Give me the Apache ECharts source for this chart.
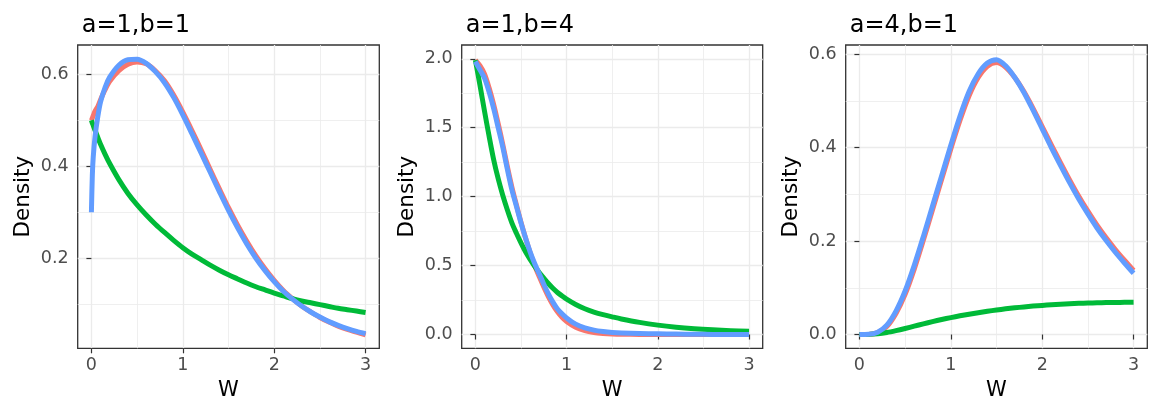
<!DOCTYPE html>
<html><head><meta charset="utf-8">
<script src="https://cdn.jsdelivr.net/npm/echarts@6/dist/echarts.min.js"></script>
<style>html,body{margin:0;padding:0;background:#fff}#c{width:1149px;height:403px}</style>
</head><body><div id="c"></div>
<script>
// ---------------- DATA ----------------
const panelTitles = ['a=1,b=1', 'a=1,b=4', 'a=4,b=1'];
const seriesNames = ['red', 'green', 'blue'];
const seriesColors = ['#F8766D', '#00BA38', '#619CFF'];
const xAxisTitle = 'W';
const yAxisTitle = 'Density';

const xTicks = [0, 1, 2, 3];
const xMinorTicks = [0.5, 1.5, 2.5];
const p1YTicks = [0.2, 0.4, 0.6];
const p1YMinor = [0.1, 0.3, 0.5];
const p2YTicks = [0, 0.5, 1, 1.5, 2];
const p2YMinor = [0.25, 0.75, 1.25, 1.75];
const p3YTicks = [0, 0.2, 0.4, 0.6];
const p3YMinor = [0.1, 0.3, 0.5];

// panel 1 : a=1,b=1
const p1W = [0,0.01,0.02,0.04,0.07,0.1,0.15,0.2,0.3,0.4,0.5,0.6,0.7,0.8,0.9,1.0,1.1,1.2,1.3,1.4,1.5,1.6,1.7,1.8,1.9,2.0,2.1,2.2,2.3,2.4,2.5,2.6,2.7,2.8,2.9,3.0];
const p1Red = [0.50,0.505,0.51,0.52,0.530,0.545,0.567,0.585,0.608,0.622,0.627,0.623,0.608,0.586,0.555,0.518,0.478,0.436,0.393,0.351,0.310,0.272,0.237,0.205,0.177,0.152,0.130,0.112,0.096,0.083,0.071,0.061,0.052,0.045,0.039,0.033];
const p1Green = [0.50,0.494,0.489,0.478,0.463,0.448,0.426,0.406,0.371,0.341,0.316,0.294,0.274,0.256,0.239,0.223,0.209,0.197,0.185,0.174,0.164,0.155,0.146,0.138,0.131,0.124,0.118,0.112,0.107,0.103,0.099,0.095,0.091,0.088,0.085,0.082];
const p1Blue = [0.30,0.38,0.42,0.465,0.508,0.540,0.572,0.594,0.620,0.632,0.633,0.624,0.606,0.582,0.550,0.512,0.471,0.429,0.387,0.345,0.304,0.266,0.231,0.200,0.173,0.149,0.128,0.111,0.096,0.083,0.072,0.062,0.054,0.047,0.041,0.036];

// panel 2 : a=1,b=4
const p2W = [0,0.05,0.1,0.15,0.2,0.25,0.3,0.35,0.4,0.45,0.5,0.55,0.6,0.65,0.7,0.75,0.8,0.85,0.9,0.95,1.0,1.1,1.2,1.3,1.4,1.5,1.6,1.8,2.0,2.2,2.4,2.6,2.8,3.0];
const p2Red = [1.99,1.95,1.89,1.79,1.67,1.53,1.38,1.22,1.07,0.94,0.815,0.70,0.595,0.50,0.42,0.345,0.275,0.215,0.165,0.125,0.095,0.052,0.028,0.015,0.008,0.004,0.002,0.001,0,0,0,0,0,0];
const p2Green = [1.99,1.81,1.62,1.44,1.27,1.13,1.01,0.905,0.81,0.735,0.665,0.60,0.545,0.495,0.45,0.41,0.37,0.335,0.305,0.28,0.257,0.218,0.187,0.163,0.144,0.128,0.113,0.088,0.068,0.053,0.042,0.034,0.028,0.024];
const p2Blue = [1.98,1.92,1.86,1.76,1.64,1.50,1.36,1.20,1.05,0.93,0.81,0.70,0.60,0.515,0.44,0.365,0.295,0.235,0.185,0.15,0.12,0.075,0.048,0.032,0.022,0.015,0.011,0.007,0.005,0.003,0.002,0.001,0.001,0.0005];

// panel 3 : a=4,b=1
const p3W = [0,0.1,0.2,0.3,0.4,0.5,0.6,0.7,0.8,0.9,1.0,1.1,1.2,1.3,1.4,1.5,1.6,1.7,1.8,1.9,2.0,2.1,2.2,2.3,2.4,2.5,2.6,2.7,2.8,2.9,3.0];
const p3Red = [0,0.0003,0.004,0.017,0.045,0.086,0.140,0.202,0.267,0.332,0.397,0.458,0.511,0.550,0.574,0.582,0.572,0.550,0.520,0.484,0.445,0.406,0.368,0.331,0.296,0.264,0.234,0.207,0.182,0.159,0.137];
const p3Green = [0,0.0003,0.0015,0.0042,0.0082,0.0128,0.0178,0.0228,0.0276,0.0321,0.0362,0.0400,0.0434,0.0466,0.0497,0.0525,0.0549,0.0571,0.0590,0.0608,0.0623,0.0637,0.0649,0.0659,0.0667,0.0674,0.0679,0.0683,0.0686,0.0688,0.0690];
const p3Blue = [0,0.0005,0.005,0.020,0.050,0.093,0.148,0.210,0.275,0.340,0.405,0.467,0.520,0.558,0.581,0.588,0.575,0.550,0.518,0.480,0.440,0.400,0.362,0.325,0.290,0.258,0.228,0.201,0.176,0.153,0.131];

// ---------------- LAYOUT ----------------
const FONT = '"DejaVu Sans", "Liberation Sans", Arial, sans-serif';
const panels = [
  {left: 77.7, width: 301.6, yMin: 0.004, yMax: 0.664, yTicks: p1YTicks, yMinor: p1YMinor, W: p1W, vals: [p1Red, p1Green, p1Blue]},
  {left: 461.7, width: 301, yMin: -0.1, yMax: 2.1, yTicks: p2YTicks, yMinor: p2YMinor, W: p2W, vals: [p2Red, p2Green, p2Blue]},
  {left: 845.7, width: 301.6, yMin: -0.0295, yMax: 0.6195, yTicks: p3YTicks, yMinor: p3YMinor, W: p3W, vals: [p3Red, p3Green, p3Blue]}
];
const TOP = 45, HEIGHT = 303.3;
const GRIDCOL = '#EBEBEB';

const option = {
  animation: false,
  backgroundColor: '#ffffff',
  title: [], grid: [], xAxis: [], yAxis: [], series: []
};

panels.forEach((p, i) => {
  option.title.push({
    text: panelTitles[i], left: p.left - 1, top: 9,
    textStyle: {fontFamily: FONT, fontSize: 24, fontWeight: 'normal', color: '#000'}
  });
  option.grid.push({
    left: p.left, top: TOP, width: p.width, height: HEIGHT,
    containLabel: false, outerBoundsMode: 'none',
    show: true, borderColor: '#333333', borderWidth: 1.3, backgroundColor: '#fff'
  });
});
// major axes
panels.forEach((p, i) => {
  option.xAxis.push({
    gridIndex: i, type: 'value', min: -0.15, max: 3.15, position: 'bottom',
    axisLine: {show: false},
    axisTick: {show: true, customValues: xTicks, length: 5, lineStyle: {color: '#333333', width: 1.2}},
    axisLabel: {customValues: xTicks, color: '#4D4D4D', fontSize: 17.5, fontFamily: FONT, margin: 8, formatter: v => String(v)},
    splitLine: {show: true, lineStyle: {color: GRIDCOL, width: 1.3}},
    name: xAxisTitle, nameLocation: 'middle', nameGap: 32,
    nameTextStyle: {color: '#000', fontSize: 21, fontFamily: FONT}
  });
  option.yAxis.push({
    gridIndex: i, type: 'value', min: p.yMin, max: p.yMax, position: 'left',
    axisLine: {show: false},
    axisTick: {show: true, customValues: p.yTicks, length: 5, lineStyle: {color: '#333333', width: 1.2}},
    axisLabel: {customValues: p.yTicks, color: '#4D4D4D', fontSize: 17.5, fontFamily: FONT, margin: 9, formatter: v => v.toFixed(1)},
    splitLine: {show: true, lineStyle: {color: GRIDCOL, width: 1.3}},
    name: yAxisTitle, nameLocation: 'middle', nameGap: 43.5, nameRotate: 90,
    nameTextStyle: {color: '#000', fontSize: 21.5, fontFamily: FONT}
  });
});
// minor axes (only grid lines)
panels.forEach((p, i) => {
  option.xAxis.push({
    gridIndex: i, type: 'value', min: -0.15, max: 3.15, position: 'bottom',
    axisLine: {show: false},
    axisTick: {show: false, customValues: xMinorTicks},
    axisLabel: {show: false, customValues: xMinorTicks},
    splitLine: {show: true, lineStyle: {color: GRIDCOL, width: 0.8}}
  });
  option.yAxis.push({
    gridIndex: i, type: 'value', min: p.yMin, max: p.yMax, position: 'left',
    axisLine: {show: false},
    axisTick: {show: false, customValues: p.yMinor},
    axisLabel: {show: false, customValues: p.yMinor},
    splitLine: {show: true, lineStyle: {color: GRIDCOL, width: 0.8}}
  });
});
// series
panels.forEach((p, i) => {
  p.vals.forEach((vals, k) => {
    option.series.push({
      name: seriesNames[k], type: 'line', xAxisIndex: i, yAxisIndex: i,
      data: p.W.map((w, j) => [w, vals[j]]),
      showSymbol: false, symbol: 'none', smooth: 0.3,
      lineStyle: {color: seriesColors[k], width: 5, cap: 'butt', join: 'round'},
      itemStyle: {color: seriesColors[k]},
      emphasis: {disabled: true}, silent: true, z: 3 + k
    });
  });
});

const chart = echarts.init(document.getElementById('c'), null, {renderer: 'canvas'});
chart.setOption(option);
</script>
</body></html>
